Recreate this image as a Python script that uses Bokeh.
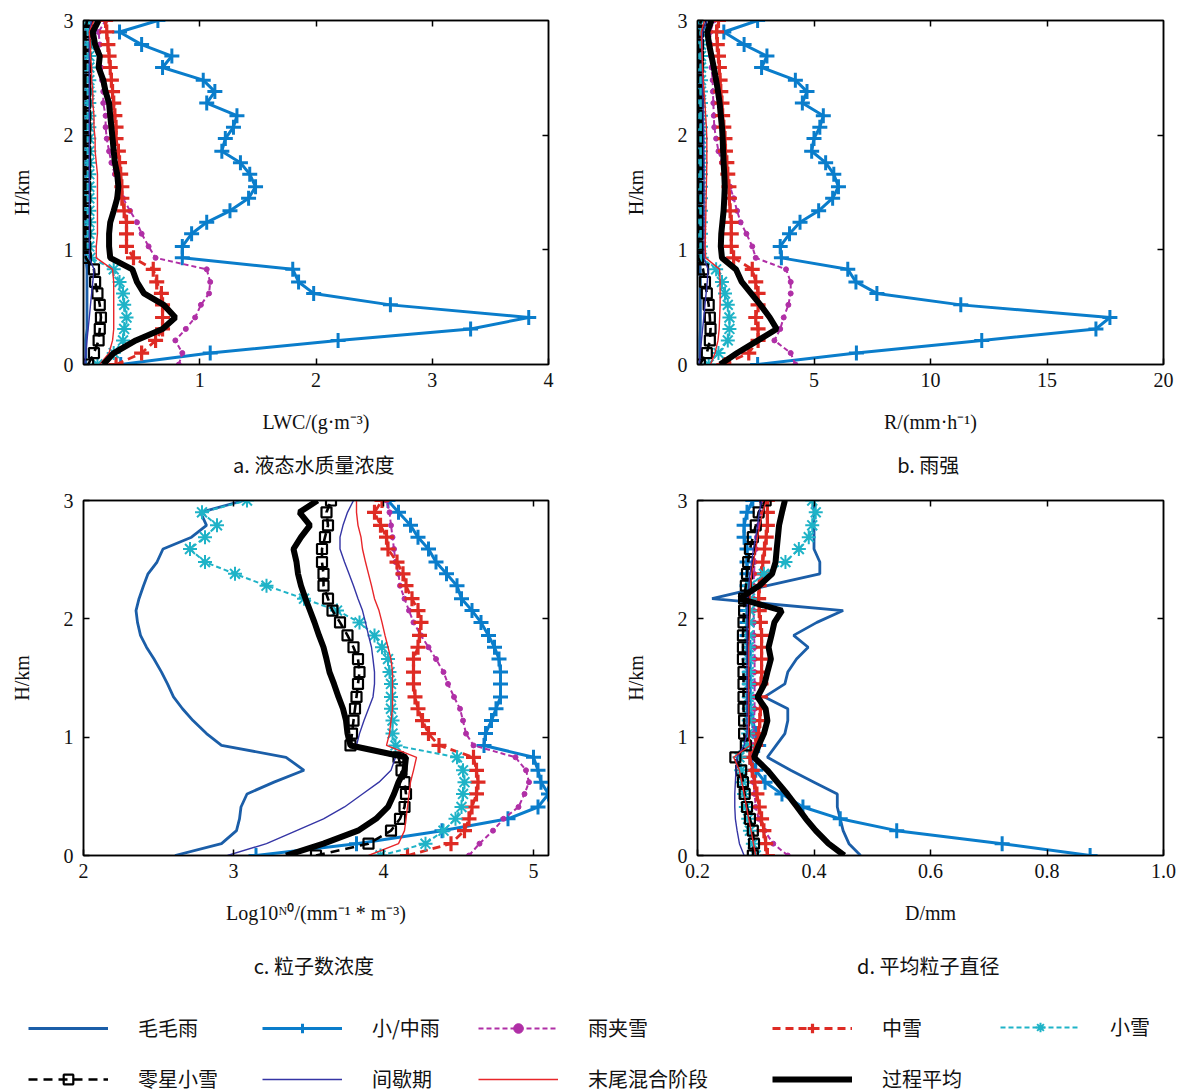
from bokeh.plotting import figure
from bokeh.models import (Range1d, LinearAxis, Legend, LegendItem,
                          ColumnDataSource, PrintfTickFormatter)
from bokeh.layouts import column, row
from bokeh.embed import file_html
from bokeh.resources import INLINE

# ---------------- data ----------------
H = [0.00, 0.10, 0.21, 0.31, 0.41, 0.52, 0.62, 0.72, 0.83, 0.93,
     1.03, 1.14, 1.24, 1.34, 1.45, 1.55, 1.66, 1.76, 1.86, 1.97,
     2.07, 2.17, 2.28, 2.38, 2.48, 2.59, 2.69, 2.79, 2.90, 3.00]

NAMES = ["毛毛雨", "小/中雨", "雨夹雪", "中雪", "小雪",
         "零星小雪", "间歇期", "末尾混合阶段", "过程平均"]

# a. LWC (g m-3)
LWC_drizzle = [0.02, 0.02, 0.02, 0.03, 0.03, 0.03, 0.03, 0.03, 0.03, 0.02, 0.02, 0.02, 0.02, 0.02, 0.02,
               0.02, 0.02, 0.02, 0.02, 0.02, 0.02, 0.02, 0.02, 0.02, 0.02, 0.02, 0.02, 0.02, 0.02, 0.03]
LWC_rain = [0.32, 1.09, 2.19, 3.33, 3.83, 2.64, 1.98, 1.85, 1.80, 0.85, 0.85, 0.93, 1.06, 1.26, 1.42,
            1.48, 1.43, 1.35, 1.19, 1.22, 1.29, 1.32, 1.06, 1.13, 1.03, 0.68, 0.76, 0.50, 0.31, 0.64]
LWC_sleet = [0.82, 0.85, 0.79, 0.88, 0.96, 1.01, 1.08, 1.09, 1.06, 0.62, 0.56, 0.50, 0.46, 0.40, 0.34,
             0.32, 0.27, 0.24, 0.22, 0.20, 0.19, 0.19, 0.17, 0.17, 0.16, 0.15, 0.14, 0.14, 0.13, 0.19]
LWC_modsnow = [0.28, 0.50, 0.62, 0.68, 0.68, 0.68, 0.67, 0.63, 0.60, 0.43, 0.37, 0.37, 0.37, 0.35, 0.33,
               0.33, 0.32, 0.31, 0.30, 0.28, 0.28, 0.27, 0.26, 0.25, 0.24, 0.23, 0.22, 0.21, 0.20, 0.19]
LWC_lightsnow = [0.12, 0.26, 0.34, 0.35, 0.37, 0.35, 0.34, 0.31, 0.26, 0.06, 0.05, 0.05, 0.05, 0.05, 0.05,
                 0.05, 0.05, 0.05, 0.05, 0.05, 0.05, 0.05, 0.05, 0.05, 0.05, 0.05, 0.05, 0.05, 0.05, 0.04]
LWC_sporadic = [0.04, 0.09, 0.13, 0.14, 0.15, 0.14, 0.12, 0.10, 0.09, 0.02, 0.015, 0.015, 0.015, 0.015, 0.015,
                0.015, 0.015, 0.015, 0.015, 0.015, 0.015, 0.015, 0.015, 0.015, 0.015, 0.015, 0.015, 0.015, 0.015, 0.03]
LWC_interval = [0.01, 0.02, 0.03, 0.04, 0.05, 0.06, 0.07, 0.08, 0.09, 0.05, 0.05, 0.05, 0.05, 0.05, 0.05,
                0.05, 0.05, 0.05, 0.05, 0.05, 0.05, 0.05, 0.05, 0.05, 0.05, 0.05, 0.05, 0.05, 0.05, 0.07]
LWC_final = [0.14, 0.22, 0.25, 0.26, 0.26, 0.26, 0.26, 0.26, 0.25, 0.11, 0.11, 0.12, 0.12, 0.12, 0.12,
             0.12, 0.12, 0.11, 0.10, 0.10, 0.09, 0.09, 0.08, 0.08, 0.07, 0.07, 0.06, 0.06, 0.05, 0.09]
LWC_mean = [0.17, 0.26, 0.45, 0.68, 0.79, 0.69, 0.52, 0.46, 0.42, 0.23, 0.22, 0.22, 0.23, 0.26, 0.29,
            0.30, 0.29, 0.27, 0.26, 0.25, 0.24, 0.23, 0.22, 0.19, 0.17, 0.13, 0.14, 0.10, 0.08, 0.13]

# b. R (mm h-1)
R_drizzle = [0.10, 0.10, 0.10, 0.12, 0.12, 0.12, 0.12, 0.12, 0.12, 0.08, 0.08, 0.08, 0.08, 0.08, 0.08,
             0.08, 0.08, 0.08, 0.08, 0.08, 0.08, 0.08, 0.08, 0.08, 0.08, 0.08, 0.08, 0.08, 0.08, 0.10]
R_rain = [2.58, 6.82, 12.2, 17.1, 17.7, 11.3, 7.7, 6.8, 6.45, 3.6, 3.55, 3.95, 4.4, 5.2, 5.8,
          6.05, 5.85, 5.5, 4.9, 5.0, 5.25, 5.4, 4.5, 4.7, 4.2, 2.75, 2.98, 2.0, 1.13, 2.58]
R_sleet = [4.2, 4.0, 3.3, 3.55, 3.7, 3.9, 4.0, 4.0, 3.8, 2.5, 2.35, 2.1, 1.85, 1.7, 1.55,
           1.4, 1.2, 1.05, 0.9, 0.8, 0.72, 0.7, 0.68, 0.66, 0.65, 0.6, 0.58, 0.56, 0.55, 0.7]
R_modsnow = [1.13, 2.2, 2.6, 2.6, 2.5, 2.6, 2.6, 2.5, 2.35, 1.55, 1.45, 1.45, 1.45, 1.4, 1.37,
             1.35, 1.3, 1.26, 1.2, 1.18, 1.13, 1.08, 1.05, 1.0, 0.97, 0.94, 0.9, 0.85, 0.82, 0.9]
R_lightsnow = [0.48, 0.9, 1.3, 1.37, 1.37, 1.3, 1.18, 1.05, 0.8, 0.18, 0.15, 0.15, 0.15, 0.15, 0.15,
               0.15, 0.15, 0.15, 0.15, 0.15, 0.15, 0.15, 0.15, 0.15, 0.15, 0.15, 0.15, 0.15, 0.15, 0.15]
R_sporadic = [0.1, 0.4, 0.53, 0.56, 0.53, 0.48, 0.4, 0.32, 0.24, 0.03, 0.02, 0.02, 0.02, 0.02, 0.02,
              0.02, 0.02, 0.02, 0.02, 0.02, 0.02, 0.02, 0.02, 0.02, 0.02, 0.02, 0.02, 0.02, 0.02, 0.15]
R_interval = [0.08, 0.12, 0.17, 0.22, 0.27, 0.32, 0.37, 0.42, 0.45, 0.28, 0.28, 0.28, 0.28, 0.28, 0.28,
              0.28, 0.28, 0.28, 0.27, 0.27, 0.26, 0.25, 0.24, 0.23, 0.22, 0.21, 0.20, 0.20, 0.22, 0.40]
R_final = [0.56, 0.75, 0.88, 0.93, 0.95, 0.97, 0.97, 0.97, 0.95, 0.35, 0.33, 0.34, 0.35, 0.36, 0.37,
           0.38, 0.39, 0.40, 0.40, 0.40, 0.38, 0.35, 0.32, 0.28, 0.25, 0.22, 0.20, 0.18, 0.16, 0.30]
R_mean = [0.97, 1.7, 2.6, 3.4, 3.1, 2.7, 2.3, 1.9, 1.65, 1.05, 1.0, 1.02, 1.07, 1.12, 1.15,
          1.17, 1.15, 1.12, 1.1, 1.08, 1.05, 1.0, 0.95, 0.88, 0.8, 0.7, 0.6, 0.5, 0.42, 0.6]

# c. log10 N0
N0_drizzle = [2.61, 2.92, 3.02, 3.04, 3.05, 3.09, 3.27, 3.47, 3.35, 2.92, 2.82, 2.73, 2.66, 2.60, 2.56,
              2.52, 2.47, 2.42, 2.38, 2.36, 2.35, 2.37, 2.40, 2.43, 2.49, 2.53, 2.72, 2.82, 2.78, 3.07]
N0_rain = [3.15, 3.82, 4.39, 4.83, 5.03, 5.10, 5.05, 5.03, 5.00, 4.67, 4.68, 4.72, 4.75, 4.78, 4.78,
           4.78, 4.77, 4.74, 4.70, 4.65, 4.59, 4.52, 4.49, 4.42, 4.35, 4.30, 4.23, 4.18, 4.10, 4.03]
N0_sleet = [4.57, 4.64, 4.73, 4.80, 4.90, 4.94, 4.97, 4.95, 4.88, 4.60, 4.55, 4.53, 4.51, 4.47, 4.43,
            4.40, 4.35, 4.30, 4.25, 4.20, 4.17, 4.14, 4.11, 4.10, 4.08, 4.07, 4.06, 4.05, 4.04, 4.02]
N0_modsnow = [4.16, 4.45, 4.54, 4.57, 4.59, 4.62, 4.63, 4.62, 4.60, 4.37, 4.30, 4.26, 4.23, 4.21, 4.20,
              4.20, 4.20, 4.23, 4.24, 4.25, 4.23, 4.19, 4.15, 4.13, 4.09, 4.03, 4.02, 3.98, 3.94, 3.99]
N0_lightsnow = [3.98, 4.28, 4.40, 4.48, 4.52, 4.53, 4.54, 4.53, 4.49, 4.08, 4.06, 4.06, 4.05, 4.05, 4.05,
                4.04, 4.03, 3.99, 3.94, 3.84, 3.69, 3.47, 3.22, 3.01, 2.81, 2.71, 2.81, 2.89, 2.79, 3.09]
N0_sporadic = [3.55, 3.90, 4.05, 4.11, 4.14, 4.15, 4.14, 4.12, 4.10, 3.78, 3.79, 3.80, 3.81, 3.82, 3.83,
               3.84, 3.83, 3.80, 3.76, 3.71, 3.66, 3.63, 3.60, 3.60, 3.59, 3.59, 3.61, 3.63, 3.62, 3.65]
N0_interval = [2.96, 3.22, 3.42, 3.60, 3.74, 3.86, 3.97, 4.05, 4.08, 3.82, 3.84, 3.87, 3.90, 3.93, 3.94,
               3.94, 3.93, 3.92, 3.90, 3.88, 3.86, 3.83, 3.80, 3.77, 3.74, 3.71, 3.71, 3.73, 3.76, 3.80]
N0_final = [3.90, 4.10, 4.14, 4.15, 4.16, 4.17, 4.18, 4.20, 4.22, 4.02, 4.04, 4.05, 4.06, 4.06, 4.06,
            4.06, 4.05, 4.03, 4.01, 3.99, 3.97, 3.94, 3.92, 3.90, 3.88, 3.86, 3.85, 3.83, 3.82, 3.82]
N0_mean = [3.35, 3.60, 3.83, 3.95, 4.03, 4.07, 4.10, 4.14, 4.15, 3.78, 3.76, 3.75, 3.73, 3.70, 3.67,
           3.64, 3.62, 3.60, 3.57, 3.54, 3.51, 3.48, 3.45, 3.43, 3.42, 3.40, 3.45, 3.51, 3.44, 3.56]

# d. mean diameter (mm)
D_drizzle = [0.48, 0.46, 0.45, 0.445, 0.44, 0.44, 0.40, 0.36, 0.32, 0.335, 0.35, 0.355, 0.355, 0.315, 0.35,
             0.355, 0.37, 0.39, 0.365, 0.405, 0.45, 0.225, 0.32, 0.41, 0.41, 0.40, 0.40, 0.40, 0.40, 0.40]
D_rain = [0.874, 0.723, 0.542, 0.445, 0.381, 0.345, 0.316, 0.30, 0.29, 0.305, 0.30, 0.295, 0.29, 0.29, 0.29,
          0.29, 0.29, 0.29, 0.285, 0.285, 0.285, 0.285, 0.285, 0.285, 0.285, 0.285, 0.28, 0.28, 0.285, 0.295]
D_sleet = [0.355, 0.33, 0.315, 0.305, 0.30, 0.298, 0.296, 0.294, 0.292, 0.295, 0.296, 0.297, 0.298, 0.298, 0.298,
           0.298, 0.298, 0.298, 0.297, 0.297, 0.296, 0.296, 0.296, 0.297, 0.298, 0.30, 0.302, 0.305, 0.308, 0.31]
D_modsnow = [0.32, 0.317, 0.314, 0.31, 0.306, 0.302, 0.298, 0.294, 0.29, 0.30, 0.305, 0.307, 0.308, 0.308, 0.309,
             0.31, 0.31, 0.31, 0.31, 0.308, 0.306, 0.305, 0.306, 0.31, 0.312, 0.315, 0.318, 0.32, 0.32, 0.32]
D_lightsnow = [0.30, 0.295, 0.29, 0.287, 0.283, 0.28, 0.278, 0.275, 0.272, 0.285, 0.287, 0.288, 0.288, 0.288, 0.288,
               0.288, 0.288, 0.288, 0.288, 0.289, 0.29, 0.29, 0.29, 0.314, 0.351, 0.374, 0.391, 0.397, 0.403, 0.397]
D_sporadic = [0.295, 0.297, 0.295, 0.29, 0.285, 0.281, 0.278, 0.275, 0.265, 0.283, 0.28, 0.28, 0.279, 0.279, 0.279,
              0.279, 0.278, 0.278, 0.278, 0.279, 0.28, 0.28, 0.283, 0.285, 0.287, 0.29, 0.295, 0.30, 0.305, 0.317]
D_interval = [0.28, 0.272, 0.268, 0.265, 0.264, 0.264, 0.265, 0.266, 0.268, 0.28, 0.285, 0.285, 0.285, 0.285, 0.285,
              0.285, 0.285, 0.285, 0.285, 0.285, 0.285, 0.286, 0.288, 0.29, 0.293, 0.296, 0.30, 0.303, 0.306, 0.31]
D_final = [0.30, 0.296, 0.292, 0.288, 0.284, 0.28, 0.276, 0.272, 0.262, 0.29, 0.288, 0.288, 0.288, 0.288, 0.288,
           0.288, 0.288, 0.288, 0.289, 0.289, 0.29, 0.29, 0.291, 0.293, 0.296, 0.30, 0.303, 0.307, 0.312, 0.318]
D_mean = [0.452, 0.425, 0.403, 0.386, 0.371, 0.354, 0.337, 0.32, 0.297, 0.305, 0.314, 0.32, 0.317, 0.303, 0.315,
          0.32, 0.326, 0.322, 0.327, 0.332, 0.345, 0.272, 0.306, 0.328, 0.334, 0.336, 0.338, 0.34, 0.345, 0.35]

PANEL_A = [LWC_drizzle, LWC_rain, LWC_sleet, LWC_modsnow, LWC_lightsnow, LWC_sporadic, LWC_interval, LWC_final, LWC_mean]
PANEL_B = [R_drizzle, R_rain, R_sleet, R_modsnow, R_lightsnow, R_sporadic, R_interval, R_final, R_mean]
PANEL_C = [N0_drizzle, N0_rain, N0_sleet, N0_modsnow, N0_lightsnow, N0_sporadic, N0_interval, N0_final, N0_mean]
PANEL_D = [D_drizzle, D_rain, D_sleet, D_modsnow, D_lightsnow, D_sporadic, D_interval, D_final, D_mean]

# ---------------- styles ----------------
STYLES = [
    dict(color="#1B5EA8", lw=2.8, dash="solid", marker=None),
    dict(color="#0A7DCB", lw=3.0, dash="solid", marker="cross", size=15, mlw=3.0),
    dict(color="#B02FA6", lw=2.0, dash="5 3", marker="circle", size=5, mlw=1.0, fill=True),
    dict(color="#DE2B24", lw=2.8, dash="8 5", marker="cross", size=15, mlw=3.2),
    dict(color="#1FB3C7", lw=2.0, dash="5 3", marker="asterisk", size=14, mlw=2.0),
    dict(color="#000000", lw=2.6, dash="9 6", marker="square", size=10, mlw=2.2),
    dict(color="#3535A5", lw=1.4, dash="solid", marker=None),
    dict(color="#E8262A", lw=1.4, dash="solid", marker=None),
    dict(color="#000000", lw=6.0, dash="solid", marker=None),
]

SERIF = "Liberation Serif"
CJK = "Noto Sans CJK SC"


def add_series(p, xs, st, src=None):
    if src is None:
        src = ColumnDataSource(dict(x=xs, y=H))
    rs = [p.line("x", "y", source=src, line_color=st["color"], line_width=st["lw"],
                 line_dash=st["dash"])]
    if st["marker"]:
        rs.append(p.scatter("x", "y", source=src, marker=st["marker"], size=st["size"],
                            line_color=st["color"], line_width=st["mlw"],
                            fill_color=st["color"] if st.get("fill") else None))
    return rs


def frame_axis(ticks):
    return LinearAxis(ticker=ticks, major_label_text_font_size="1px",
                      major_label_text_color=None, major_tick_in=6, major_tick_out=0,
                      minor_tick_line_color=None, major_label_standoff=0,
                      axis_line_width=1.5, major_tick_line_width=1.5)


def make_panel(series, xr, xticks, top_ticks, xlabel, caption, left, right, top, bottom,
               fw, fh, title_standoff, fmt=None):
    p = figure(frame_width=fw, frame_height=fh, x_range=Range1d(*xr), y_range=Range1d(0, 3),
               output_backend="svg", toolbar_location=None,
               min_border_left=left, min_border_right=right,
               min_border_top=top, min_border_bottom=bottom,
               title=caption, title_location="below")
    p.title.align = "center"
    p.title.text_font = CJK
    p.title.text_font_size = "20px"
    p.title.text_font_style = "normal"
    p.title.text_color = "#111111"
    p.title.standoff = title_standoff
    p.grid.visible = False
    p.outline_line_color = "black"
    p.outline_line_width = 1.5
    p.outline_line_alpha = 1.0
    for ax in (p.xaxis[0], p.yaxis[0]):
        ax.major_tick_in = 6
        ax.major_tick_out = 0
        ax.minor_tick_line_color = None
        ax.axis_line_width = 1.5
        ax.major_tick_line_width = 1.5
        ax.major_label_text_font = SERIF
        ax.major_label_text_font_size = "20px"
        ax.major_label_text_color = "#111111"
        ax.axis_label_text_font = SERIF
        ax.axis_label_text_font_size = "20px"
        ax.axis_label_text_font_style = "normal"
        ax.axis_label_text_color = "#111111"
    p.xaxis.ticker = xticks
    p.yaxis.ticker = [0, 1, 2, 3]
    p.xaxis.major_label_standoff = 8
    p.yaxis.major_label_standoff = 10
    p.xaxis.axis_label = xlabel
    p.yaxis.axis_label = "H/km"
    p.xaxis.axis_label_standoff = 21
    p.yaxis.axis_label_standoff = 28
    if fmt:
        p.xaxis.formatter = PrintfTickFormatter(format=fmt)
    p.add_layout(frame_axis(top_ticks), "above")
    p.add_layout(frame_axis([1, 2]), "right")
    for xs, st in zip(series, STYLES):
        add_series(p, xs, st)
    return p


pa = make_panel(PANEL_A, (0, 4), [1, 2, 3, 4], [1, 2, 3], "LWC/(g·m⁻³)", "a.  液态水质量浓度",
                83, 42, 20, 114, 465, 344, 24)
pb = make_panel(PANEL_B, (0, 20), [5, 10, 15, 20], [5, 10, 15], "R/(mm·h⁻¹)", "b.  雨强",
                107, 18, 20, 114, 466, 344, 24)
pc = make_panel(PANEL_C, (2, 5.1), [2, 3, 4, 5], [3, 4, 5], "Log10ᴺ⁰/(mm⁻¹ * m⁻³)", "c.  粒子数浓度",
                83, 42, 10, 139, 465, 355, 45)
pd = make_panel(PANEL_D, (0.2, 1.0), [0.2, 0.4, 0.6, 0.8, 1.0], [0.4, 0.6, 0.8], "D/mm",
                "d.  平均粒子直径", 107, 18, 10, 139, 466, 355, 45, fmt="%.1f")

# ---------------- legend strip ----------------
LEG_H = 93
leg = figure(width=1181, height=LEG_H, x_range=Range1d(-10, -9), y_range=Range1d(-10, -9),
             output_backend="svg", toolbar_location=None, min_border=0,
             x_axis_type=None, y_axis_type=None)
leg.grid.visible = False
leg.outline_line_color = None

items = []
for name, xs, st in zip(NAMES, PANEL_B, STYLES):
    rs = add_series(leg, xs, st)
    items.append(LegendItem(label=name, renderers=rs))

columns = [([items[0], items[5]], 28), ([items[1], items[6]], 262), ([items[2], items[7]], 478),
           ([items[3], items[8]], 772), ([items[4]], 1000)]
for its, x0 in columns:
    y0 = 2 if len(its) == 2 else 54
    lg = Legend(items=its, location=(x0, y0), orientation="vertical", glyph_width=80,
                glyph_height=24, label_height=24, label_standoff=30, spacing=22, padding=0,
                margin=0, border_line_alpha=0, background_fill_alpha=0,
                label_text_font=CJK, label_text_font_size="20px", label_text_color="#111111")
    leg.add_layout(lg)

layout = column(row(pa, pb), row(pc, pd), leg)
open("out.html", "w").write(file_html(layout, INLINE))
